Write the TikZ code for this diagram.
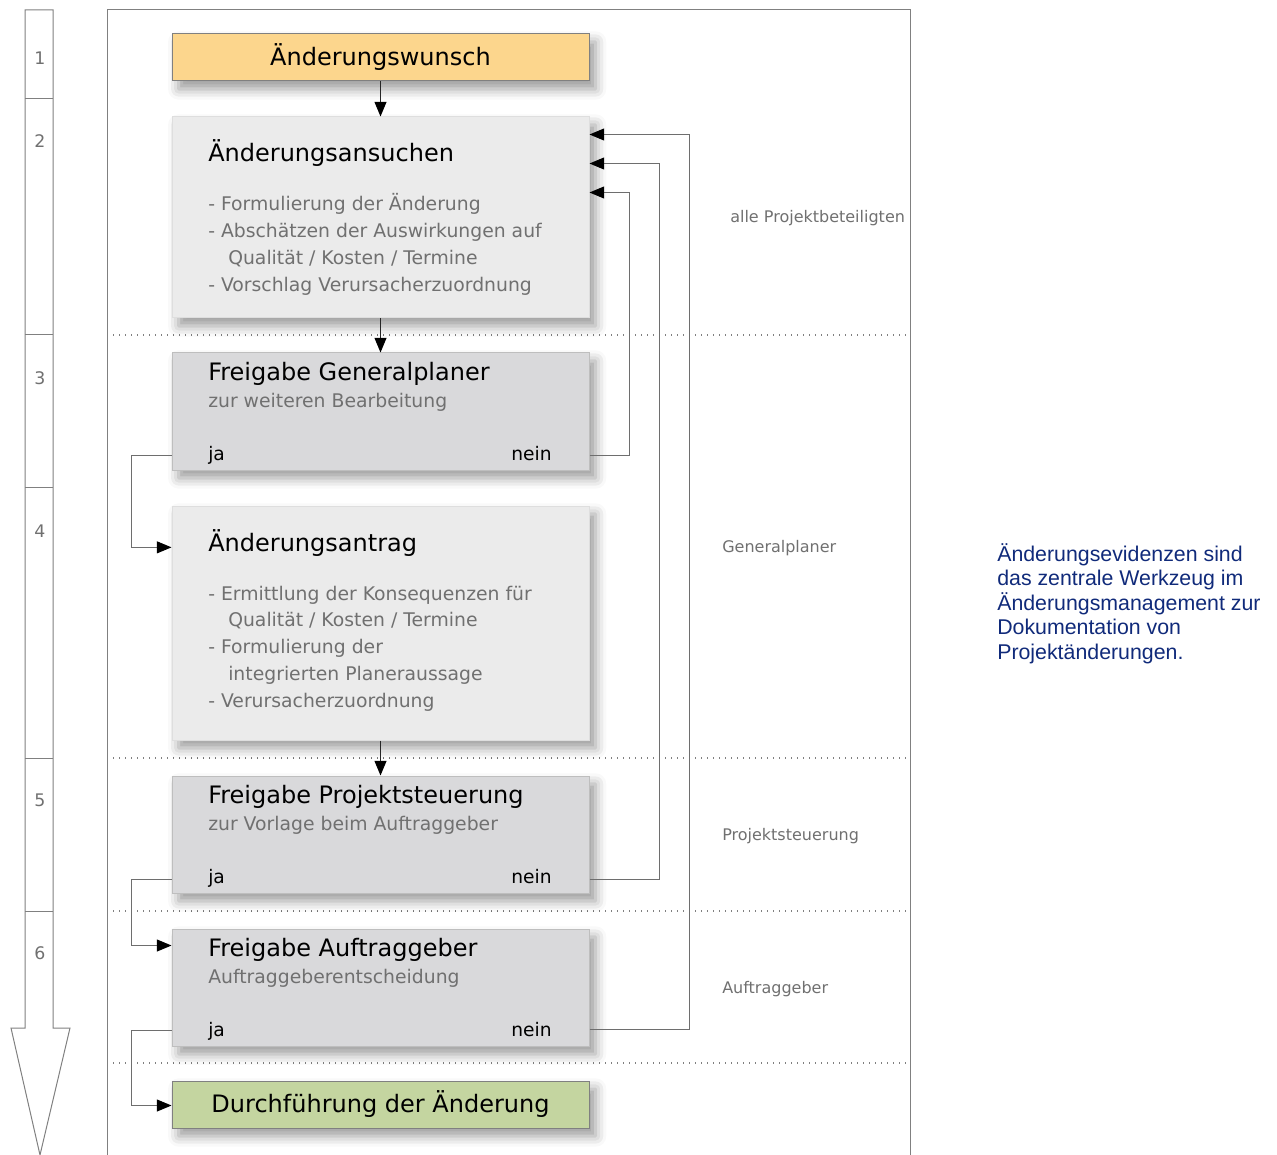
\documentclass[tikz,border=0pt]{standalone}
\usepackage{fontspec}
\setmainfont{DejaVu Sans}
\newfontfamily\notefont{Liberation Sans}
\usetikzlibrary{arrows.meta,calc,shadows.blur}

\definecolor{framegray}{RGB}{128,128,128}
\definecolor{linegray}{RGB}{110,110,110}
\definecolor{textgray}{RGB}{112,112,112}
\definecolor{wishfill}{RGB}{252,214,141}
\definecolor{donefill}{RGB}{196,213,160}
\definecolor{lightfill}{RGB}{235,235,235}
\definecolor{lightedge}{RGB}{222,222,222}
\definecolor{gatefill}{RGB}{217,217,219}
\definecolor{gateedge}{RGB}{190,190,190}
\definecolor{notecol}{RGB}{16,42,122}

\begin{document}
\begin{tikzpicture}[x=0.75pt,y=-0.75pt,
  every node/.style={inner sep=0pt},
  frameline/.style={draw=framegray,line width=0.75pt},
  rowsep/.style={draw=framegray,line width=0.9pt,dash pattern=on 0.9pt off 3.6pt},
  shade/.style={blur shadow={shadow xshift=5pt,shadow yshift=-6pt,shadow blur radius=8pt,shadow opacity=40}},
  boxbase/.style={rectangle,minimum width=312.75pt,line width=0.75pt,shade},
  endbox/.style={boxbase,draw=framegray,minimum height=35.25pt,font=\fontsize{18}{22}\selectfont},
  lightbox/.style={boxbase,draw=lightedge,fill=lightfill},
  gatebox/.style={boxbase,draw=gateedge,fill=gatefill,minimum height=87.75pt},
  title/.style={anchor=base west,font=\fontsize{18}{22}\selectfont},
  sub/.style={anchor=base west,text=textgray,font=\fontsize{14.1}{17}\selectfont},
  answer/.style={font=\fontsize{14}{17}\selectfont},
  role/.style={anchor=base west,text=textgray,font=\fontsize{12}{15}\selectfont},
  stepno/.style={text=textgray,font=\fontsize{13}{16}\selectfont},
  flow/.style={draw=black!85,line width=0.75pt,-{Triangle[length=11pt,width=9pt,color=black]}},
  fb/.style={draw=linegray,line width=0.75pt,-{Triangle[length=11pt,width=9pt,color=black]}}]

\useasboundingbox (0,0) rectangle (1277,1155);

% step strip with downward arrow
\draw[frameline] (25,10) -- (53,10) -- (53,1028) -- (70,1028) -- (40,1155)
  -- (11,1028) -- (25,1028) -- cycle;
\foreach \yy in {99,335,487,758,911} \draw[frameline] (25,\yy) -- (53,\yy);
\node[stepno] (s1) at (40,58) {1};
\node[stepno] (s2) at (40,141) {2};
\node[stepno] (s3) at (40,378) {3};
\node[stepno] (s4) at (40,531) {4};
\node[stepno] (s5) at (40,800) {5};
\node[stepno] (s6) at (40,953) {6};

% outer frame and row separators
\draw[frameline] (107,1155) -- (107,10) -- (910,10) -- (910,1155);
\foreach \yy in {335,758,911,1063} \draw[rowsep] (107,\yy) -- (910,\yy);

% responsible parties
\node[role] (r1) at (730,223) {alle Projektbeteiligten};
\node[role] (r2) at (722,552) {Generalplaner};
\node[role] (r3) at (722,840) {Projektsteuerung};
\node[role] (r4) at (722,993) {Auftraggeber};

% boxes
\node[endbox,fill=wishfill] (wish) at (380.5,57.5) {Änderungswunsch};
\node[lightbox,minimum height=150.75pt] (ansuchen) at (380.5,217.5) {};
\node[gatebox] (gp) at (380.5,411.5) {};
\node[lightbox,minimum height=175.5pt] (antrag) at (380.5,623) {};
\node[gatebox] (ps) at (380.5,834.5) {};
\node[gatebox] (ag) at (380.5,987.5) {};
\node[endbox,fill=donefill] (done) at (380.5,1104.5) {Durchführung der Änderung};

% Änderungsansuchen
\node[title] (ansuchenT) at (208,162) {Änderungsansuchen};
\node[sub] (ans1) at (208,211) {- Formulierung der Änderung};
\node[sub] (ans2) at (208,237.8) {- Abschätzen der Auswirkungen auf};
\node[sub] (ans3) at (228,264.6) {Qualität / Kosten / Termine};
\node[sub] (ans4) at (208,291.4) {- Vorschlag Verursacherzuordnung};

% Freigabe Generalplaner
\node[title] (gpT) at (208,380.5) {Freigabe Generalplaner};
\node[sub] (gpS) at (208,407.5) {zur weiteren Bearbeitung};
\node[answer,anchor=base west] (gpja) at (208,460) {ja};
\node[answer,anchor=base east] (gpnein) at (552,460) {nein};

% Änderungsantrag
\node[title] (antragT) at (208,551) {Änderungsantrag};
\node[sub] (ant1) at (208,600) {- Ermittlung der Konsequenzen für};
\node[sub] (ant2) at (228,626.8) {Qualität / Kosten / Termine};
\node[sub] (ant3) at (208,653.6) {- Formulierung der};
\node[sub] (ant4) at (228,680.4) {integrierten Planeraussage};
\node[sub] (ant5) at (208,707.2) {- Verursacherzuordnung};

% Freigabe Projektsteuerung
\node[title] (psT) at (208,803.5) {Freigabe Projektsteuerung};
\node[sub] (psS) at (208,830.5) {zur Vorlage beim Auftraggeber};
\node[answer,anchor=base west] (psja) at (208,883) {ja};
\node[answer,anchor=base east] (psnein) at (552,883) {nein};

% Freigabe Auftraggeber
\node[title] (agT) at (208,956.5) {Freigabe Auftraggeber};
\node[sub] (agS) at (208,983.5) {Auftraggeberentscheidung};
\node[answer,anchor=base west] (agja) at (208,1036) {ja};
\node[answer,anchor=base east] (agnein) at (552,1036) {nein};

% main flow
\draw[flow] (wish) -- (ansuchen);
\draw[flow] (ansuchen) -- (gp);
\draw[flow] (antrag) -- (ps);

% approvals
\draw[fb] ($(gp.south west)+(0,-15)$) -- ++(-40,0) |- (antrag.west |- antragT.mid);
\draw[fb] ($(ps.south west)+(0,-14)$) -- ++(-40,0) |- ($(ag.north west)+(0,17)$);
\draw[fb] ($(ag.south west)+(0,-16)$) -- ++(-40,0) |- ($(done.north west)+(0,25)$);

% rejections back to the request
\draw[fb] ($(gp.south east)+(0,-15)$) -- ++(40,0) |- ($(ansuchen.north east)+(0,76)$);
\draw[fb] ($(ps.south east)+(0,-14)$) -- ++(70,0) |- ($(ansuchen.north east)+(0,47)$);
\draw[fb] ($(ag.south east)+(0,-17)$) -- ++(100,0) |- ($(ansuchen.north east)+(0,18)$);

% note
\foreach \i/\yy/\txt in {1/561/Änderungsevidenzen sind,
                        2/585.5/das zentrale Werkzeug im,
                        3/610/Änderungsmanagement zur,
                        4/634.5/Dokumentation von,
                        5/659/Projektänderungen.}
  \node[anchor=base west,text=notecol,font=\notefont\fontsize{16}{18}\selectfont] (note\i) at (997,\yy) {\txt};

\end{tikzpicture}
\end{document}
